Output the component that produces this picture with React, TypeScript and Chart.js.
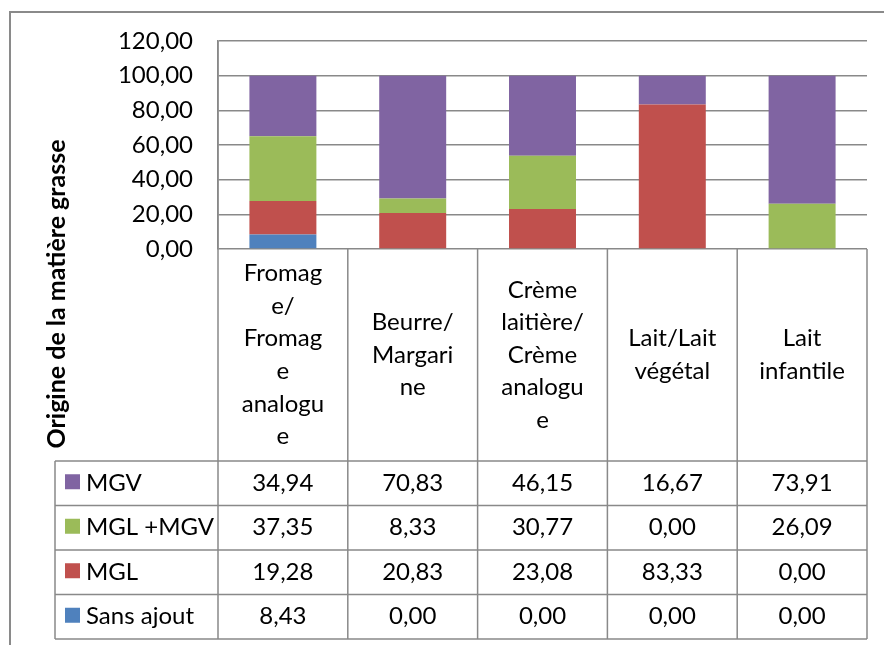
import React, { useEffect, useRef } from 'react';
import { Chart, registerables } from 'chart.js';

Chart.register(...registerables);

const categories = [
  'Fromage/Fromage analogue',
  'Beurre/Margarine',
  'Crème laitière/Crème analogue',
  'Lait/Lait végétal',
  'Lait infantile',
];
const categoryLines: string[][] = [
  ['Fromag', 'e/', 'Fromag', 'e', 'analogu', 'e'],
  ['Beurre/', 'Margari', 'ne'],
  ['Crème', 'laitière/', 'Crème', 'analogu', 'e'],
  ['Lait/Lait', 'végétal'],
  ['Lait', 'infantile'],
];
const sansAjout = [8.43, 0.0, 0.0, 0.0, 0.0];
const mgl = [19.28, 20.83, 23.08, 83.33, 0.0];
const mglMgv = [37.35, 8.33, 30.77, 0.0, 26.09];
const mgv = [34.94, 70.83, 46.15, 16.67, 73.91];
const seriesNames = ['Sans ajout', 'MGL', 'MGL +MGV', 'MGV'];
const seriesColors = ['#4F81BD', '#C0504D', '#9BBB59', '#8064A2'];
const axisTitle = 'Origine de la matière grasse';

const FONT = 'Lato, "Open Sans", sans-serif';
const LINE = '#898989';

const fmt = (v: number) => v.toFixed(2).replace('.', ',');

const tablePlugin = {
  id: 'dataTable',
  afterDraw(chart: any) {
    const ctx = chart.ctx as CanvasRenderingContext2D;
    const { left, right, bottom } = chart.chartArea;
    const xs = chart.scales.x;
    const n = categories.length;
    const colW = (right - left) / n;
    const catTop = bottom;
    const tableTop = 461;
    const rowH = 44.5;
    const tableBottom = tableTop + rowH * 4;
    const legendLeft = 55;

    ctx.save();
    // outer frame
    ctx.strokeStyle = '#8a8a8a';
    ctx.lineWidth = 2;
    ctx.strokeRect(10, 12, 1000, 1000);

    ctx.strokeStyle = LINE;
    ctx.lineWidth = 1.5;
    // vertical lines of category/table columns
    for (let i = 0; i <= n; i++) {
      const x = i < n ? xs.getPixelForValue(i) - colW / 2 : xs.getPixelForValue(n - 1) + colW / 2;
      ctx.beginPath();
      ctx.moveTo(x, i === 0 ? chart.chartArea.top : catTop);
      ctx.lineTo(x, tableBottom);
      ctx.stroke();
    }
    // legend column left line
    ctx.beginPath();
    ctx.moveTo(legendLeft, tableTop);
    ctx.lineTo(legendLeft, tableBottom);
    ctx.stroke();
    // horizontal lines
    for (let r = 0; r <= 4; r++) {
      const y = tableTop + r * rowH;
      ctx.beginPath();
      ctx.moveTo(legendLeft, y);
      ctx.lineTo(right, y);
      ctx.stroke();
    }

    // category labels
    ctx.fillStyle = '#000';
    ctx.font = `24px ${FONT}`;
    ctx.textAlign = 'center';
    ctx.textBaseline = 'middle';
    const lh = 32.6;
    const catMid = (catTop + tableTop) / 2;
    categoryLines.forEach((lines, i) => {
      const cx = xs.getPixelForValue(i);
      const y0 = catMid - ((lines.length - 1) * lh) / 2;
      lines.forEach((t, k) => ctx.fillText(t, cx, y0 + k * lh));
    });

    // table rows (top row = last dataset)
    const ds = chart.data.datasets;
    for (let r = 0; r < 4; r++) {
      const d = ds[ds.length - 1 - r];
      const cy = tableTop + r * rowH + rowH / 2;
      ctx.fillStyle = d.backgroundColor;
      ctx.fillRect(65, cy - 9, 15, 15);
      ctx.fillStyle = '#000';
      ctx.textAlign = 'left';
      ctx.fillText(d.label, 86, cy);
      ctx.textAlign = 'center';
      (d.data as number[]).forEach((v, i) => {
        ctx.fillText(fmt(v), xs.getPixelForValue(i), cy);
      });
    }

    // y axis title
    ctx.font = `bold 25px ${FONT}`;
    ctx.translate(57, 294);
    ctx.rotate(-Math.PI / 2);
    ctx.textAlign = 'center';
    ctx.textBaseline = 'middle';
    ctx.fillText(axisTitle, 0, 0);
    ctx.restore();
  },
};

export default function App() {
  const ref = useRef<HTMLCanvasElement | null>(null);
  useEffect(() => {
    if (!ref.current) return;
    const values = [sansAjout, mgl, mglMgv, mgv];
    const chart = new Chart(ref.current, {
      type: 'bar',
      data: {
        labels: categories,
        datasets: values.map((data, i) => ({
          label: seriesNames[i],
          data,
          backgroundColor: seriesColors[i],
          borderWidth: 0,
          barPercentage: 0.516,
          categoryPercentage: 1,
        })),
      },
      options: {
        responsive: false,
        animation: false,
        events: [],
        layout: { padding: { left: 0, top: 41, right: 17, bottom: 396 } },
        plugins: { legend: { display: false }, tooltip: { enabled: false } },
        scales: {
          x: { stacked: true, display: false },
          y: {
            stacked: true,
            min: 0,
            max: 120,
            ticks: {
              stepSize: 20,
              padding: 25,
              color: '#000',
              font: { family: FONT, size: 24 },
              callback: (v: any) => fmt(Number(v)),
            },
            grid: { color: LINE, lineWidth: 1.5, drawTicks: false },
            border: { display: true, color: LINE, width: 1.5 },
            afterFit: (scale: any) => {
              scale.width = 218;
            },
          },
        },
      },
      plugins: [tablePlugin],
    });
    return () => chart.destroy();
  }, []);
  return (
    <div style={{ position: 'fixed', left: 0, top: 0, width: 884, height: 645, background: '#fff' }}>
      <canvas ref={ref} width={884} height={645} />
    </div>
  );
}
